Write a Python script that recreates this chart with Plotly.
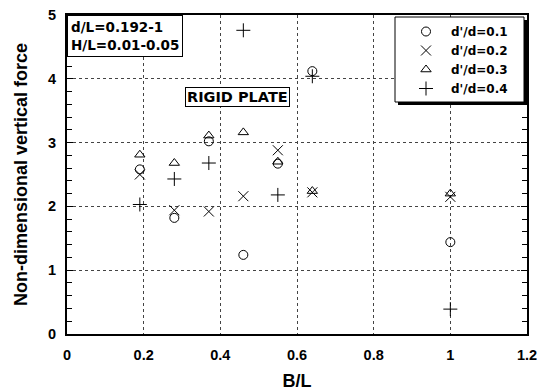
import plotly.graph_objects as go

# Data
bl = [0.19, 0.28, 0.37, 0.46, 0.55, 0.64, 1.0]
force_d01 = [2.58, 1.82, 3.02, 1.24, 2.67, 4.12, 1.44]
force_d02 = [2.50, 1.94, 1.92, 2.16, 2.88, 2.22, 2.15]
force_d03 = [2.81, 2.68, 3.11, 3.16, 2.70, 2.24, 2.20]
force_d04 = [2.03, 2.43, 2.68, 4.76, 2.18, 4.04, 0.39]
series_names = ["d'/d=0.1", "d'/d=0.2", "d'/d=0.3", "d'/d=0.4"]
x_ticks = [0, 0.2, 0.4, 0.6, 0.8, 1, 1.2]
x_ticktext = ["0", "0.2", "0.4", "0.6", "0.8", "1", "1.2"]
y_ticks = [0, 1, 2, 3, 4, 5]

FONT = "Liberation Sans, Arial, sans-serif"
WIDE = "DejaVu Sans, sans-serif"

symbols = ["circle-open", "x-thin-open", "triangle-up-open", "cross-thin-open"]
sizes = [9, 10, 9, 10]

fig = go.Figure()
for name, ys, sym, sz in zip(series_names, [force_d01, force_d02, force_d03, force_d04], symbols, sizes):
    fig.add_trace(go.Scatter(
        x=bl, y=ys, mode="markers", name=name,
        marker=dict(symbol=sym, size=sz, color="black", line=dict(color="black", width=1)),
    ))

L, R, T, B = 67, 10, 15, 57
W, H = 537, 391
pw, ph = W - L - R, H - T - B

def px_x(p):
    return (p - L) / pw

def px_y(p):
    return (H - B - p) / ph

# legend frame (pixels)
BOX_L, BOX_T, BOX_R, BOX_B, SH = 395, 17, 524, 102, 3

fig.update_layout(
    width=W, height=H,
    margin=dict(l=L, r=R, t=T, b=B, pad=0, autoexpand=False),
    paper_bgcolor="white", plot_bgcolor="white",
    font=dict(family=FONT, color="black", size=13),
    showlegend=True,
    legend=dict(
        x=px_x(BOX_L), y=px_y(BOX_T), xanchor="left", yanchor="top",
        bgcolor="rgba(0,0,0,0)", borderwidth=0,
        font=dict(family=WIDE, size=12, weight="bold"),
        itemwidth=40, indentation=6,
    ),
    xaxis=dict(
        range=[0, 1.2], tickvals=x_ticks, ticktext=x_ticktext,
        showgrid=True, gridcolor="#444", griddash="dot", gridwidth=1,
        showline=True, linecolor="black", linewidth=2, mirror=True,
        ticks="", zeroline=False, ticklabelstandoff=7, automargin=False,
        ticklabeloverflow="allow",
        tickfont=dict(family=FONT, size=14.5, weight="bold"),
        title=dict(text="B/L", font=dict(family=FONT, size=18, weight="bold"), standoff=12),
    ),
    yaxis=dict(
        range=[0, 5], tickvals=y_ticks,
        showgrid=True, gridcolor="#444", griddash="dot", gridwidth=1,
        showline=True, linecolor="black", linewidth=2, mirror="ticks",
        ticks="inside", ticklen=6, tickcolor="black",
        minor=dict(dtick=0.2, ticks="inside", ticklen=5, tickcolor="black", showgrid=False),
        zeroline=False, automargin=False, ticklabelstandoff=6,
        ticklabeloverflow="allow",
        tickfont=dict(family=FONT, size=14.5, weight="bold"),
        title=dict(text="Non-dimensional vertical force", font=dict(family=FONT, size=18, weight="bold"), standoff=16),
    ),
    shapes=[
        dict(type="rect", xref="paper", yref="paper",
             x0=px_x(BOX_L + SH), x1=px_x(BOX_R + SH),
             y0=px_y(BOX_B + SH), y1=px_y(BOX_T + SH),
             fillcolor="black", line=dict(width=0), layer="above"),
        dict(type="rect", xref="paper", yref="paper",
             x0=px_x(BOX_L), x1=px_x(BOX_R),
             y0=px_y(BOX_B), y1=px_y(BOX_T),
             fillcolor="white", line=dict(color="black", width=1), layer="above"),
    ],
    annotations=[
        dict(text="d/L=0.192-1<br>H/L=0.01-0.05", xref="paper", yref="paper",
             x=0, y=1, xanchor="left", yanchor="top", align="left", showarrow=False,
             bordercolor="black", borderwidth=1, bgcolor="white", borderpad=3,
             font=dict(family=WIDE, size=13.5, weight="bold")),
        dict(text="RIGID PLATE", xref="x", yref="y", x=0.444, y=3.71,
             xanchor="center", yanchor="middle", showarrow=False,
             bordercolor="black", borderwidth=1, bgcolor="white", borderpad=1,
             font=dict(family=WIDE, size=14.5, weight="bold")),
    ],
)

fig.write_html("out.html")
